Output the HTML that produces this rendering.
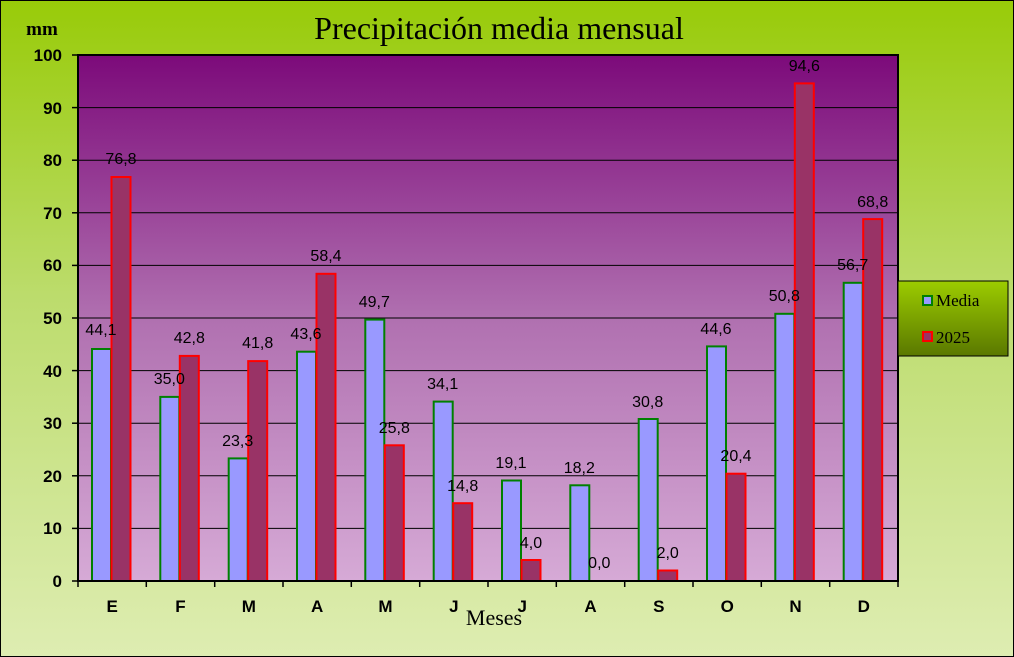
<!DOCTYPE html>
<html><head><meta charset="utf-8"><style>body{margin:0}svg{display:block}</style></head><body>
<svg width="1014" height="657" xmlns="http://www.w3.org/2000/svg">
<defs>
<linearGradient id="bg" x1="0" y1="0" x2="0" y2="1"><stop offset="0" stop-color="#98cb08"/><stop offset="0.45" stop-color="#bcdc6c"/><stop offset="1" stop-color="#deedb2"/></linearGradient>
<linearGradient id="pa" x1="0" y1="0" x2="0" y2="1"><stop offset="0" stop-color="#7c0a7a"/><stop offset="0.5" stop-color="#b070b0"/><stop offset="1" stop-color="#d6aad6"/></linearGradient>
<linearGradient id="lg" x1="0" y1="0" x2="0" y2="1"><stop offset="0" stop-color="#9ccc00"/><stop offset="1" stop-color="#5a7800"/></linearGradient>
</defs>
<rect x="0" y="0" width="1014" height="657" fill="url(#bg)" stroke="#000" stroke-width="2"/>
<text x="499" y="39" text-anchor="middle" font-family="Liberation Serif, serif" font-size="32" fill="#000">Precipitación media mensual</text>
<text x="42" y="35" text-anchor="middle" font-family="Liberation Serif, serif" font-size="19" font-weight="bold">mm</text>
<rect x="78" y="55" width="820" height="526" fill="url(#pa)"/>
<g stroke="#000" stroke-width="1">
<line x1="78" y1="107.6" x2="898" y2="107.6"/><line x1="78" y1="160.2" x2="898" y2="160.2"/><line x1="78" y1="212.8" x2="898" y2="212.8"/><line x1="78" y1="265.4" x2="898" y2="265.4"/><line x1="78" y1="318" x2="898" y2="318"/><line x1="78" y1="370.6" x2="898" y2="370.6"/><line x1="78" y1="423.2" x2="898" y2="423.2"/><line x1="78" y1="475.8" x2="898" y2="475.8"/><line x1="78" y1="528.4" x2="898" y2="528.4"/>
</g>
<g font-family="Liberation Sans, sans-serif" font-size="17" font-weight="bold" text-anchor="end">
<text x="62" y="61">100</text><text x="62" y="114">90</text><text x="62" y="166">80</text><text x="62" y="219">70</text><text x="62" y="271">60</text><text x="62" y="324">50</text><text x="62" y="377">40</text><text x="62" y="429">30</text><text x="62" y="482">20</text><text x="62" y="534">10</text><text x="62" y="587">0</text>
</g>
<g stroke-width="2">
<g fill="#9999ff" stroke="#008000">
<rect x="92" y="349.0" width="19" height="232.0"/>
<rect x="160.3" y="396.9" width="19" height="184.1"/>
<rect x="228.7" y="458.4" width="19" height="122.6"/>
<rect x="297" y="351.7" width="19" height="229.3"/>
<rect x="365.3" y="319.6" width="19" height="261.4"/>
<rect x="433.7" y="401.6" width="19" height="179.4"/>
<rect x="502" y="480.5" width="19" height="100.5"/>
<rect x="570.3" y="485.3" width="19" height="95.7"/>
<rect x="638.7" y="419.0" width="19" height="162.0"/>
<rect x="707" y="346.4" width="19" height="234.6"/>
<rect x="775.3" y="313.8" width="19" height="267.2"/>
<rect x="843.7" y="282.8" width="19" height="298.2"/>
</g>
<g fill="#993366" stroke="#ff0000">
<rect x="111.5" y="177.0" width="19" height="404.0"/>
<rect x="179.8" y="355.9" width="19" height="225.1"/>
<rect x="248.2" y="361.1" width="19" height="219.9"/>
<rect x="316.5" y="273.8" width="19" height="307.2"/>
<rect x="384.8" y="445.3" width="19" height="135.7"/>
<rect x="453.2" y="503.2" width="19" height="77.8"/>
<rect x="521.5" y="560.0" width="19" height="21.0"/>
<rect x="658.2" y="570.5" width="19" height="10.5"/>
<rect x="726.5" y="473.7" width="19" height="107.3"/>
<rect x="794.8" y="83.4" width="19" height="497.6"/>
<rect x="863.2" y="219.1" width="19" height="361.9"/>
</g>
</g>
<g font-family="Liberation Sans, sans-serif" font-size="16" text-anchor="middle" fill="#000">
<text x="101" y="335">44,1</text>
<text x="169.3" y="384">35,0</text>
<text x="237.7" y="446">23,3</text>
<text x="306" y="339">43,6</text>
<text x="374.3" y="307">49,7</text>
<text x="442.7" y="389">34,1</text>
<text x="511" y="468">19,1</text>
<text x="579.3" y="473">18,2</text>
<text x="647.7" y="407">30,8</text>
<text x="716" y="334">44,6</text>
<text x="784.3" y="301">50,8</text>
<text x="852.7" y="270">56,7</text>
<text x="121" y="164">76,8</text>
<text x="189.3" y="343">42,8</text>
<text x="257.7" y="348">41,8</text>
<text x="326" y="261">58,4</text>
<text x="394.3" y="433">25,8</text>
<text x="462.7" y="491">14,8</text>
<text x="531" y="548">4,0</text>
<text x="599.3" y="568">0,0</text>
<text x="667.7" y="558">2,0</text>
<text x="736" y="461">20,4</text>
<text x="804.3" y="71">94,6</text>
<text x="872.7" y="207">68,8</text>
</g>
<rect x="78" y="55" width="820" height="526" fill="none" stroke="#000" stroke-width="2"/>
<g stroke="#000" stroke-width="1.5">
<line x1="72" y1="55" x2="78" y2="55"/><line x1="72" y1="107.6" x2="78" y2="107.6"/><line x1="72" y1="160.2" x2="78" y2="160.2"/><line x1="72" y1="212.8" x2="78" y2="212.8"/><line x1="72" y1="265.4" x2="78" y2="265.4"/><line x1="72" y1="318" x2="78" y2="318"/><line x1="72" y1="370.6" x2="78" y2="370.6"/><line x1="72" y1="423.2" x2="78" y2="423.2"/><line x1="72" y1="475.8" x2="78" y2="475.8"/><line x1="72" y1="528.4" x2="78" y2="528.4"/><line x1="72" y1="581" x2="78" y2="581"/>
<line x1="78" y1="581" x2="78" y2="587"/><line x1="146.3" y1="581" x2="146.3" y2="587"/><line x1="214.7" y1="581" x2="214.7" y2="587"/><line x1="283" y1="581" x2="283" y2="587"/><line x1="351.3" y1="581" x2="351.3" y2="587"/><line x1="419.7" y1="581" x2="419.7" y2="587"/><line x1="488" y1="581" x2="488" y2="587"/><line x1="556.3" y1="581" x2="556.3" y2="587"/><line x1="624.7" y1="581" x2="624.7" y2="587"/><line x1="693" y1="581" x2="693" y2="587"/><line x1="761.3" y1="581" x2="761.3" y2="587"/><line x1="829.7" y1="581" x2="829.7" y2="587"/><line x1="898" y1="581" x2="898" y2="587"/>
</g>
<g font-family="Liberation Sans, sans-serif" font-size="17" font-weight="bold" text-anchor="middle">
<text x="112.2" y="612">E</text><text x="180.5" y="612">F</text><text x="248.8" y="612">M</text><text x="317.2" y="612">A</text><text x="385.5" y="612">M</text><text x="453.8" y="612">J</text><text x="522.2" y="612">J</text><text x="590.5" y="612">A</text><text x="658.8" y="612">S</text><text x="727.2" y="612">O</text><text x="795.5" y="612">N</text><text x="863.8" y="612">D</text>
</g>
<text x="494" y="625" text-anchor="middle" font-family="Liberation Serif, serif" font-size="22">Meses</text>
<rect x="898" y="281" width="110" height="75" fill="url(#lg)" stroke="#000" stroke-width="1"/>
<rect x="923" y="296" width="9" height="9" fill="#9999ff" stroke="#008000" stroke-width="2"/>
<text x="936" y="306" font-family="Liberation Serif, serif" font-size="17">Media</text>
<rect x="923" y="332" width="9" height="9" fill="#993366" stroke="#ff0000" stroke-width="2"/>
<text x="936" y="343" font-family="Liberation Serif, serif" font-size="17">2025</text>
</svg>
</body></html>
